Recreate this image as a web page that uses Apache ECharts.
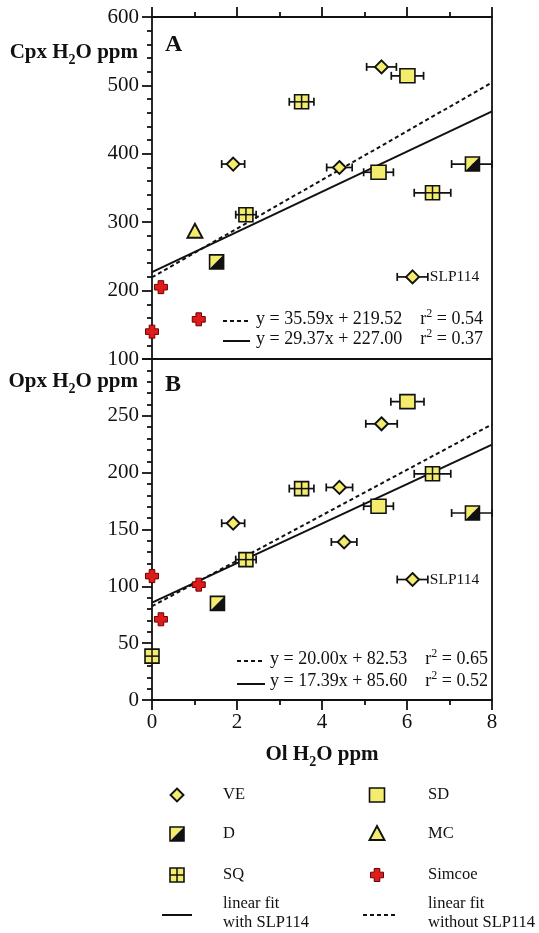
<!DOCTYPE html>
<html><head><meta charset="utf-8">
<script src="https://cdn.jsdelivr.net/npm/echarts@6/dist/echarts.min.js"></script>
<style>html,body{margin:0;padding:0;background:#fff}#c{width:539px;height:933px}</style>
</head><body><div id="c"></div>
<script>
// ---------- data ----------
const xMin = 0, xMax = 8, xInterval = 2;
const cpxMin = 100, cpxMax = 600, cpxInterval = 100;
const opxMin = 0, opxMax = 300, opxInterval = 50;

// [Ol H2O, Cpx H2O, Ol error (±)]
const cpxVE = [[1.91, 385, 0.27], [4.41, 380, 0.30], [5.40, 527, 0.35], [6.13, 220, 0.36]];
const cpxVELabels = ['', '', '', 'SLP114'];
const cpxSD = [[5.33, 373, 0.35], [6.01, 514, 0.38]];
const cpxD = [[1.52, 242, 0], [7.54, 385, 0.49]];
const cpxMC = [[1.01, 286, 0]];
const cpxSQ = [[2.21, 311, 0.24], [3.52, 476, 0.29], [6.60, 343, 0.43]];
const cpxSimcoe = [[0.00, 140, 0], [0.21, 205, 0], [1.10, 158, 0]];

// [Ol H2O, Opx H2O, Ol error (±)]
const opxVE = [[1.91, 155.5, 0.27], [4.41, 187, 0.31], [4.52, 139, 0.30], [5.40, 243, 0.37], [6.13, 106, 0.36]];
const opxVELabels = ['', '', '', '', 'SLP114'];
const opxSD = [[5.33, 170.5, 0.35], [6.01, 262.5, 0.39]];
const opxD = [[1.54, 85, 0], [7.54, 164.5, 0.49]];
const opxSQ = [[0.00, 38.6, 0], [2.21, 123.5, 0.24], [3.52, 186, 0.29], [6.60, 199, 0.43]];
const opxSimcoe = [[0.00, 109, 0], [0.21, 71, 0], [1.10, 101.5, 0]];

// fits: [without SLP114 (dashed), with SLP114 (solid)]
const cpxFitSlope = [35.59, 29.37];
const cpxFitIntercept = [219.52, 227.00];
const cpxFitR2 = ['0.54', '0.37'];
const opxFitSlope = [20.00, 17.39];
const opxFitIntercept = [82.53, 85.60];
const opxFitR2 = ['0.65', '0.52'];

const legendNames = ['VE', 'SD', 'D', 'MC', 'SQ', 'Simcoe'];
const legendShapes = ['diamond', 'square', 'half', 'triangle', 'grid', 'cross'];
const fitLegendNames = ['linear fit\nwith SLP114', 'linear fit\nwithout SLP114'];

// ---------- style ----------
const FONT = '"Liberation Serif","Times New Roman",serif';
const YEL = '#f3ec6c', BLK = '#111111', RED = '#e01b1b', DRED = '#6b0000';

function markerEls(shape, cx, cy) {
  switch (shape) {
    case 'diamond': return [{type:'polygon', shape:{points:[[cx,cy-6.5],[cx+6.5,cy],[cx,cy+6.5],[cx-6.5,cy]]}, style:{fill:YEL, stroke:BLK, lineWidth:1.9}}];
    case 'square': return [{type:'rect', shape:{x:cx-7.5,y:cy-7,width:15,height:14}, style:{fill:YEL, stroke:BLK, lineWidth:1.6}}];
    case 'half': return [
      {type:'polygon', shape:{points:[[cx-7,cy-7],[cx+7,cy-7],[cx-7,cy+7]]}, style:{fill:YEL}},
      {type:'polygon', shape:{points:[[cx+7,cy-7],[cx+7,cy+7],[cx-7,cy+7]]}, style:{fill:BLK}},
      {type:'rect', shape:{x:cx-7,y:cy-7,width:14,height:14}, style:{fill:'none', stroke:BLK, lineWidth:1.6}}];
    case 'triangle': return [{type:'polygon', shape:{points:[[cx,cy-8],[cx+7.5,cy+6],[cx-7.5,cy+6]]}, style:{fill:YEL, stroke:BLK, lineWidth:1.9}}];
    case 'grid': return [
      {type:'rect', shape:{x:cx-7,y:cy-7,width:14,height:14}, style:{fill:YEL, stroke:BLK, lineWidth:1.6}},
      {type:'line', shape:{x1:cx,y1:cy-7,x2:cx,y2:cy+7}, style:{stroke:BLK, lineWidth:1.5}},
      {type:'line', shape:{x1:cx-7,y1:cy,x2:cx+7,y2:cy}, style:{stroke:BLK, lineWidth:1.5}}];
    case 'cross': { const a = 2.8, b = 6.5; return [{type:'polygon', shape:{points:[[cx-a,cy-b],[cx+a,cy-b],[cx+a,cy-a],[cx+b,cy-a],[cx+b,cy+a],[cx+a,cy+a],[cx+a,cy+b],[cx-a,cy+b],[cx-a,cy+a],[cx-b,cy+a],[cx-b,cy-a],[cx-a,cy-a]]}, style:{fill:RED, stroke:DRED, lineWidth:1}}]; }
  }
  return [];
}
function errEls(l, r, cy) {
  const st = {stroke:BLK, lineWidth:1.7};
  return [
    {type:'line', shape:{x1:l,y1:cy,x2:r,y2:cy}, style:st},
    {type:'line', shape:{x1:l,y1:cy-4,x2:l,y2:cy+4}, style:st},
    {type:'line', shape:{x1:r,y1:cy-4,x2:r,y2:cy+4}, style:st}];
}
function pointSeries(name, data, shape, panel, labels) {
  return {
    type:'custom', name, data, xAxisIndex: panel === 0 ? 0 : 2, yAxisIndex: panel === 0 ? 0 : 2,
    z: 5, silent: true,
    renderItem: (params, api) => {
      const x = api.value(0), y = api.value(1), e = api.value(2);
      const c = api.coord([x, y]);
      const ch = [];
      let rEnd = c[0] + 7;
      if (e > 0) {
        const l = api.coord([x - e, y])[0];
        const r = api.coord([Math.min(x + e, xMax), y])[0];
        rEnd = r;
        ch.push(...errEls(l, r, c[1]));
      }
      ch.push(...markerEls(shape, c[0], c[1]));
      const lab = labels && labels[params.dataIndex];
      if (lab) ch.push({type:'text', x: rEnd + 2, y: c[1], style:{text: lab, fontFamily: FONT, fontSize: 15.5, fill: BLK, align:'left', textAlign:'left', verticalAlign:'middle', textVerticalAlign:'middle'}});
      return {type:'group', children: ch};
    }
  };
}
function fitSeries(slope, intercept, dashed, panel) {
  return {
    type:'line', xAxisIndex: panel === 0 ? 0 : 2, yAxisIndex: panel === 0 ? 0 : 2,
    data: [[xMin, intercept], [xMax, slope * xMax + intercept]],
    symbol:'none', silent:true, z:2,
    lineStyle:{color:BLK, width:2, type: dashed ? [4, 3] : 'solid'}
  };
}

const lineSt = {color:BLK, width:1.8};
const tickCommon = {show:true, inside:false, length:10, lineStyle:lineSt};
const labelCommon = {fontFamily:FONT, fontSize:21, color:BLK};
function xAx(gridIndex, position, withTicks, withLabels, extra) {
  return Object.assign({
    type:'value', gridIndex, position, min:xMin, max:xMax, interval:xInterval,
    axisLine:{show:true, onZero:false, lineStyle:lineSt},
    axisTick: withTicks ? tickCommon : {show:false},
    minorTick: withTicks ? {show:true, splitNumber:2, length:5, lineStyle:lineSt} : {show:false},
    axisLabel: withLabels ? Object.assign({show:true, margin:12}, labelCommon) : {show:false},
    splitLine:{show:false}, minorSplitLine:{show:false}
  }, extra || {});
}
function yAx(gridIndex, position, min, max, interval, withTicks, extra) {
  return Object.assign({
    type:'value', gridIndex, position, min, max, interval,
    axisLine:{show:true, onZero:false, lineStyle:lineSt},
    axisTick: withTicks ? tickCommon : {show:false},
    minorTick: withTicks ? {show:true, splitNumber:5, length:5, lineStyle:lineSt} : {show:false},
    axisLabel: withTicks ? Object.assign({show:true, margin:13}, labelCommon) : {show:false},
    splitLine:{show:false}, minorSplitLine:{show:false}
  }, extra || {});
}

function eqText(i, slope, intercept, r2) {
  return '{a|y = ' + slope[i].toFixed(2) + 'x + ' + intercept[i].toFixed(2) + '    r}{s|2}{a| = ' + r2[i] + '}';
}
const eqRich = {a:{fontFamily:FONT, fontSize:18, lineHeight:22, fill:BLK}, s:{fontFamily:FONT, fontSize:12, lineHeight:12, verticalAlign:'top', fill:BLK}};
const subRich = {b:{fontFamily:FONT, fontSize:21, fontWeight:'bold', lineHeight:21, verticalAlign:'top', fill:BLK}, s:{fontFamily:FONT, fontSize:14, fontWeight:'bold', lineHeight:25, verticalAlign:'bottom', fill:BLK}};
function txt(x, y, text, style) {
  return {type:'text', x, y, style:Object.assign({text, fill:BLK, fontFamily:FONT}, style)};
}
function seg(x1, x2, y, dashed) {
  return {type:'line', shape:{x1, y1:y, x2, y2:y}, style:{stroke:BLK, lineWidth:2, lineDash: dashed ? [4, 3] : null}};
}

const graphics = [];
// axis titles
graphics.push(txt(138, 55, '{b|Cpx H}{s|2}{b|O ppm}', {rich:subRich, align:'right', textAlign:'right', verticalAlign:'middle', textVerticalAlign:'middle'}));
graphics.push(txt(138, 384, '{b|Opx H}{s|2}{b|O ppm}', {rich:subRich, align:'right', textAlign:'right', verticalAlign:'middle', textVerticalAlign:'middle'}));
// panel letters
graphics.push(txt(165, 45, 'A', {fontSize:24, fontWeight:'bold', align:'left', textAlign:'left', verticalAlign:'middle', textVerticalAlign:'middle'}));
graphics.push(txt(165, 385, 'B', {fontSize:24, fontWeight:'bold', align:'left', textAlign:'left', verticalAlign:'middle', textVerticalAlign:'middle'}));
// equations panel A
graphics.push(seg(223, 250, 321, true));
graphics.push(seg(223, 250, 341, false));
graphics.push(txt(256, 319, eqText(0, cpxFitSlope, cpxFitIntercept, cpxFitR2), {rich:eqRich, align:'left', textAlign:'left', verticalAlign:'middle', textVerticalAlign:'middle'}));
graphics.push(txt(256, 339, eqText(1, cpxFitSlope, cpxFitIntercept, cpxFitR2), {rich:eqRich, align:'left', textAlign:'left', verticalAlign:'middle', textVerticalAlign:'middle'}));
// equations panel B
graphics.push(seg(237, 262, 661, true));
graphics.push(seg(237, 265, 684, false));
graphics.push(txt(270, 659, eqText(0, opxFitSlope, opxFitIntercept, opxFitR2), {rich:eqRich, align:'left', textAlign:'left', verticalAlign:'middle', textVerticalAlign:'middle'}));
graphics.push(txt(270, 681, eqText(1, opxFitSlope, opxFitIntercept, opxFitR2), {rich:eqRich, align:'left', textAlign:'left', verticalAlign:'middle', textVerticalAlign:'middle'}));
// legend
const legRowsY = [795, 834, 875];
const legIconX = [177, 377], legTextX = [223, 428];
legendNames.forEach((n, i) => {
  const row = Math.floor(i / 2), col = i % 2;
  graphics.push({type:'group', children: markerEls(legendShapes[i], legIconX[col], legRowsY[row])});
  graphics.push(txt(legTextX[col], legRowsY[row], n, {fontSize:16.5, align:'left', textAlign:'left', verticalAlign:'middle', textVerticalAlign:'middle'}));
});
graphics.push(seg(162, 192, 915, false));
graphics.push(seg(363, 395, 915, true));
graphics.push(txt(legTextX[0], 913, fitLegendNames[0], {fontSize:16.5, lineHeight:19, align:'left', textAlign:'left', verticalAlign:'middle', textVerticalAlign:'middle'}));
graphics.push(txt(legTextX[1], 913, fitLegendNames[1], {fontSize:16.5, lineHeight:19, align:'left', textAlign:'left', verticalAlign:'middle', textVerticalAlign:'middle'}));

const chart = echarts.init(document.getElementById('c'), null, {renderer:'canvas'});
chart.setOption({
  animation: false,
  backgroundColor: '#ffffff',
  grid: [
    {left:152, top:17, width:340, height:342},
    {left:152, top:359, width:340, height:341}
  ],
  xAxis: [
    xAx(0, 'top', true, false),
    xAx(0, 'bottom', false, false),
    xAx(1, 'bottom', true, true, {
      name: '{b|Ol H}{s|2}{b|O ppm}', nameLocation:'middle', nameGap:44,
      nameTextStyle: {rich: {b:{fontFamily:FONT, fontSize:21, fontWeight:'bold', lineHeight:21, verticalAlign:'top', color:BLK}, s:{fontFamily:FONT, fontSize:14, fontWeight:'bold', lineHeight:25, verticalAlign:'bottom', color:BLK}}}
    })
  ],
  yAxis: [
    yAx(0, 'left', cpxMin, cpxMax, cpxInterval, true),
    yAx(0, 'right', cpxMin, cpxMax, cpxInterval, false),
    yAx(1, 'left', opxMin, opxMax, opxInterval, true, {axisLabel: Object.assign({show:true, margin:13, showMaxLabel:false}, labelCommon)}),
    yAx(1, 'right', opxMin, opxMax, opxInterval, false)
  ],
  series: [
    fitSeries(cpxFitSlope[0], cpxFitIntercept[0], true, 0),
    fitSeries(cpxFitSlope[1], cpxFitIntercept[1], false, 0),
    fitSeries(opxFitSlope[0], opxFitIntercept[0], true, 1),
    fitSeries(opxFitSlope[1], opxFitIntercept[1], false, 1),
    pointSeries('VE', cpxVE, 'diamond', 0, cpxVELabels),
    pointSeries('SD', cpxSD, 'square', 0),
    pointSeries('D', cpxD, 'half', 0),
    pointSeries('MC', cpxMC, 'triangle', 0),
    pointSeries('SQ', cpxSQ, 'grid', 0),
    pointSeries('Simcoe', cpxSimcoe, 'cross', 0),
    pointSeries('VE', opxVE, 'diamond', 1, opxVELabels),
    pointSeries('SD', opxSD, 'square', 1),
    pointSeries('D', opxD, 'half', 1),
    pointSeries('SQ', opxSQ, 'grid', 1),
    pointSeries('Simcoe', opxSimcoe, 'cross', 1)
  ],
  graphic: graphics
});
</script>
</body></html>
